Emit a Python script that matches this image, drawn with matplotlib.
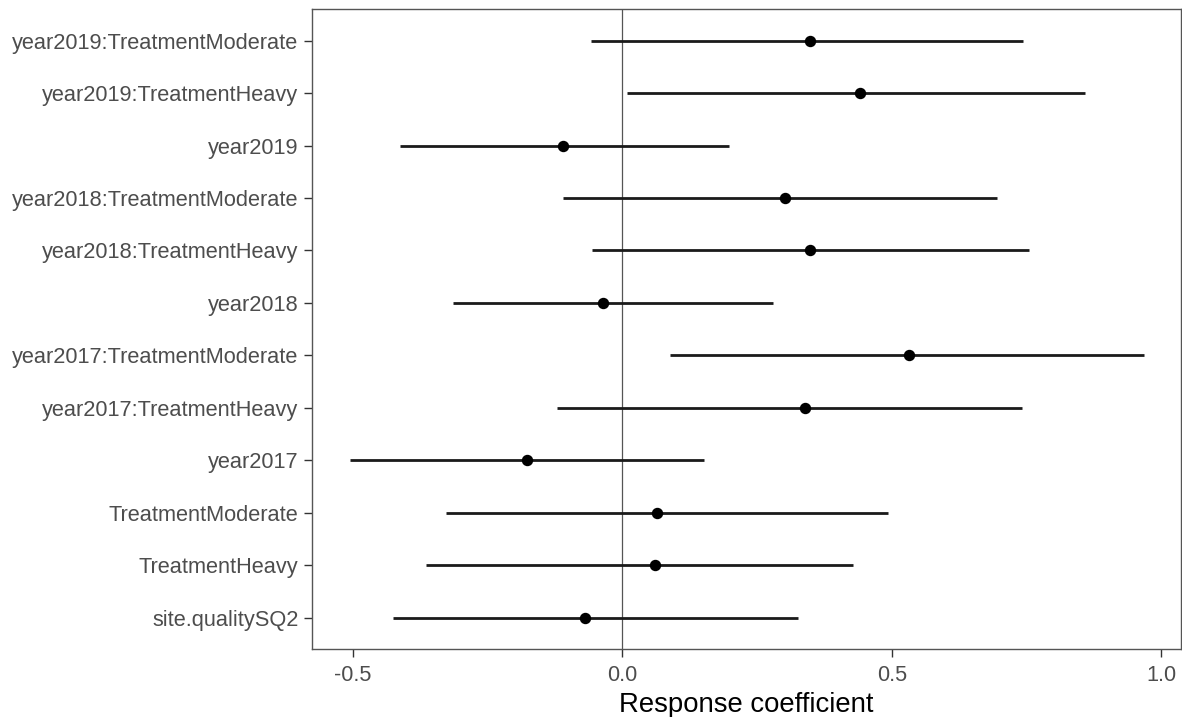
import matplotlib
matplotlib.use("Agg")
import matplotlib.pyplot as plt

terms = ["year2019:TreatmentModerate", "year2019:TreatmentHeavy", "year2019",
         "year2018:TreatmentModerate", "year2018:TreatmentHeavy", "year2018",
         "year2017:TreatmentModerate", "year2017:TreatmentHeavy", "year2017",
         "TreatmentModerate", "TreatmentHeavy", "site.qualitySQ2"]
estimate = [0.349, 0.441, -0.111, 0.301, 0.348, -0.037, 0.532, 0.338, -0.178, 0.065, 0.060, -0.069]
lower = [-0.059, 0.009, -0.413, -0.111, -0.056, -0.314, 0.088, -0.122, -0.505, -0.328, -0.365, -0.426]
upper = [0.743, 0.858, 0.198, 0.695, 0.754, 0.280, 0.968, 0.741, 0.151, 0.493, 0.428, 0.325]
xticks = [-0.5, 0.0, 0.5, 1.0]
xticklabels = ["-0.5", "0.0", "0.5", "1.0"]

plt.rcParams['font.family'] = ['Liberation Sans', 'DejaVu Sans']

fig = plt.figure(figsize=(11.82, 7.17), dpi=100)
ax = fig.add_axes([311.7/1182, 1 - 649/717, (1180.5 - 311.7)/1182, (649 - 9.3)/717])

n = len(terms)
ypos = [n - i for i in range(n)]

ax.axvline(0, color="#555555", lw=0.9, zorder=1)
ax.hlines(ypos, lower, upper, color="#1a1a1a", lw=2.0, zorder=2)
ax.plot(estimate, ypos, "o", color="black", ms=7.2, zorder=3)

ax.set_xlim(-0.577, 1.036)
ax.set_ylim(0.4, n + 0.6)
ax.set_yticks(ypos)
ax.set_yticklabels(terms)
ax.set_xticks(xticks)
ax.set_xticklabels(xticklabels)
ax.tick_params(axis="both", colors="#333333", labelcolor="#4d4d4d", labelsize=15.7,
               length=5.5, width=1.0)
ax.tick_params(axis="y", pad=4)
ax.tick_params(axis="x", pad=6)
for s in ax.spines.values():
    s.set_color("#555555")
    s.set_linewidth(1.0)
ax.set_xlabel("Response coefficient", fontsize=19.8, color="black", labelpad=4)

fig.savefig("out.png", dpi=100)
